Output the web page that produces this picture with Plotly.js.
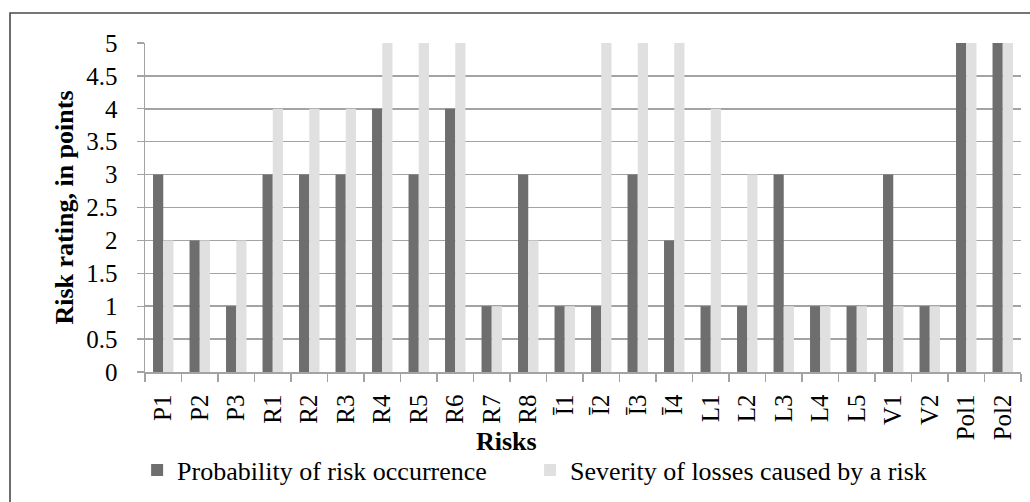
<!DOCTYPE html>
<html>
<head>
<meta charset="utf-8">
<script src="https://cdn.plot.ly/plotly-3.0.1.min.js"></script>
<style>html,body{margin:0;padding:0;background:#fff;} #chart{width:1030px;height:502px;}</style>
</head>
<body>
<div id="chart"></div>
<script>
const risks = ["P1","P2","P3","R1","R2","R3","R4","R5","R6","R7","R8","Ī1","Ī2","Ī3","Ī4","L1","L2","L3","L4","L5","V1","V2","Pol1","Pol2"];
const probability = [3,2,1,3,3,3,4,3,4,1,3,1,1,3,2,1,1,3,1,1,3,1,5,5];
const severity    = [2,2,2,4,4,4,5,5,5,1,2,1,5,5,5,4,3,1,1,1,1,1,5,5];
const yTicks = [0,0.5,1,1.5,2,2.5,3,3.5,4,4.5,5];
const seriesNames = ["Probability of risk occurrence","Severity of losses caused by a risk"];

const FONT = "'Liberation Serif', serif";
const grid = "#a3a3a3";

const traces = [
  {type:"bar", name:seriesNames[0], x:risks, y:probability, marker:{color:"#6e6e6e"}, legend:"legend"},
  {type:"bar", name:seriesNames[1], x:risks, y:severity, marker:{color:"#e0e0e0"}, legend:"legend2"}
];

const legendBase = {orientation:"h", xanchor:"left", y:-0.298, yanchor:"middle",
  font:{family:FONT, size:26, color:"#000"}, bgcolor:"rgba(0,0,0,0)"};

const layout = {
  width:1030, height:502,
  margin:{l:145, r:9, t:43, b:130},
  paper_bgcolor:"#fff", plot_bgcolor:"#fff",
  font:{family:FONT, color:"#000", size:24},
  barmode:"group", bargap:0.44, bargroupgap:0,
  showlegend:true,
  legend:Object.assign({}, legendBase, {x:-0.009}),
  legend2:Object.assign({}, legendBase, {x:0.4396}),
  xaxis:{
    type:"category", tickangle:-90, tickfont:{family:FONT, size:25, color:"#000"},
    showline:true, linecolor:grid, linewidth:1.5,
    ticks:"outside", tickson:"boundaries", ticklen:8, tickcolor:grid, tickwidth:1.3,
    ticklabelstandoff:11, showgrid:false, zeroline:false
  },
  yaxis:{
    range:[0,5], tickmode:"array", tickvals:yTicks, ticktext:yTicks.map(String),
    tickfont:{family:FONT, size:25, color:"#000"},
    showline:true, linecolor:grid, linewidth:1.5,
    ticks:"outside", ticklen:7, tickcolor:grid, tickwidth:1.3, ticklabelstandoff:14,
    showgrid:true, gridcolor:grid, gridwidth:1.5, zeroline:false,
    title:{text:"<b>Risk rating, in points</b>", font:{family:FONT, size:26, color:"#000"}, standoff:5}
  },
  annotations:[
    {text:"<b>Risks</b>", xref:"paper", yref:"paper", x:0.413, y:-0.21, xanchor:"center", yanchor:"middle",
     showarrow:false, font:{family:FONT, size:26, color:"#000"}}
  ],
  shapes:[
    {type:"rect", xref:"paper", yref:"paper", x0:-0.1541, x1:1.03, y0:-0.45, y1:1.0912,
     line:{color:"#4a4a4a", width:1.6}, fillcolor:"rgba(0,0,0,0)", layer:"above"}
  ]
};

Plotly.newPlot("chart", traces, layout, {staticPlot:true, displayModeBar:false});
</script>
</body>
</html>
